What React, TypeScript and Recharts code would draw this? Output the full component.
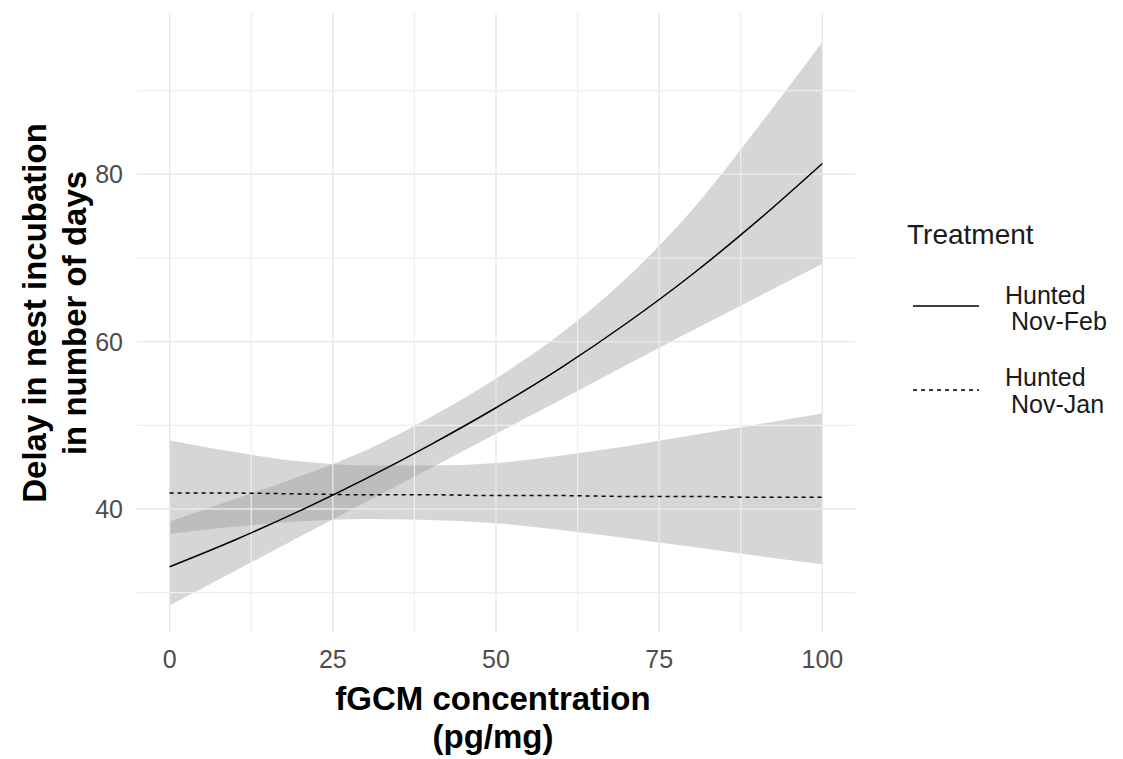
import {
  ComposedChart,
  Area,
  Line,
  XAxis,
  YAxis,
  ReferenceLine,
} from "recharts";

const xValues = [0, 10, 20, 30, 40, 50, 60, 70, 80, 90, 100];

// Hunted Nov-Feb: fitted delay and confidence band
const febFit = [33.1, 36.3, 39.8, 43.6, 47.7, 52.1, 56.9, 62.2, 68.0, 74.4, 81.3];
const febLow = [28.5, 32.6, 36.7, 40.8, 44.9, 49.0, 53.1, 57.2, 61.3, 65.3, 69.3];
const febHigh = [38.5, 41.2, 43.9, 47.0, 51.0, 55.6, 61.0, 67.6, 75.7, 85.5, 95.8];

// Hunted Nov-Jan: fitted delay and confidence band
const janFit = [41.9, 41.9, 41.8, 41.7, 41.7, 41.6, 41.6, 41.5, 41.5, 41.4, 41.4];
const janLow = [37.0, 37.9, 38.5, 38.8, 38.7, 38.3, 37.5, 36.5, 35.5, 34.4, 33.4];
const janHigh = [48.2, 46.8, 45.7, 45.2, 45.2, 45.5, 46.4, 47.5, 48.8, 50.1, 51.4];

const xTicks = [0, 25, 50, 75, 100];
const xMinor = [12.5, 37.5, 62.5, 87.5];
const yTicks = [40, 60, 80];
const yMinor = [30, 50, 70, 90];

const data = xValues.map((x, i) => ({
  x,
  febFit: febFit[i],
  febBand: [febLow[i], febHigh[i]],
  janFit: janFit[i],
  janBand: [janLow[i], janHigh[i]],
}));

const FONT = "'Liberation Sans', Arial, sans-serif";
const W = 1123;
const H = 759;

export default function App() {
  return (
    <div style={{ position: "absolute", left: 0, top: 0, width: W, height: H, background: "white" }}>
      <ComposedChart
        width={W}
        height={H}
        data={data}
        margin={{ top: 13, right: 268, bottom: 0, left: 0 }}
      >
        <XAxis
          dataKey="x"
          type="number"
          domain={[-5, 105]}
          ticks={xTicks}
          allowDataOverflow
          axisLine={false}
          tickLine={false}
          tickSize={0}
          tickMargin={17}
          height={126}
          tick={{ fontSize: 25, fill: "#4d4d4d", fontFamily: FONT }}
        />
        <YAxis
          type="number"
          domain={[25.18, 99.28]}
          ticks={yTicks}
          allowDataOverflow
          axisLine={false}
          tickLine={false}
          tickSize={0}
          tickMargin={14}
          width={137}
          tick={{ fontSize: 25, fill: "#4d4d4d", fontFamily: FONT }}
        />
        {xMinor.map((v) => (
          <ReferenceLine key={"xm" + v} x={v} stroke="#efefef" strokeWidth={1.2} />
        ))}
        {yMinor.map((v) => (
          <ReferenceLine key={"ym" + v} y={v} stroke="#efefef" strokeWidth={1.2} />
        ))}
        {xTicks.map((v) => (
          <ReferenceLine key={"x" + v} x={v} stroke="#e8e8e8" strokeWidth={1.4} />
        ))}
        {yTicks.map((v) => (
          <ReferenceLine key={"y" + v} y={v} stroke="#e8e8e8" strokeWidth={1.4} />
        ))}
        <Area
          type="monotone"
          dataKey="febBand"
          stroke="none"
          fill="#999999"
          fillOpacity={0.4}
          isAnimationActive={false}
        />
        <Area
          type="monotone"
          dataKey="janBand"
          stroke="none"
          fill="#999999"
          fillOpacity={0.4}
          isAnimationActive={false}
        />
        <Line
          type="monotone"
          dataKey="febFit"
          stroke="#000"
          strokeWidth={1.5}
          dot={false}
          isAnimationActive={false}
        />
        <Line
          type="monotone"
          dataKey="janFit"
          stroke="#000"
          strokeWidth={1.5}
          strokeDasharray="4 4"
          dot={false}
          isAnimationActive={false}
        />
      </ComposedChart>

      <svg
        width={W}
        height={H}
        style={{ position: "absolute", left: 0, top: 0, pointerEvents: "none" }}
        fontFamily={FONT}
      >
        {/* y axis title */}
        <g fontSize={33} fontWeight="bold" fill="#000" textAnchor="middle">
          <text transform="translate(46,313) rotate(-90)">Delay in nest incubation</text>
          <text transform="translate(86,313) rotate(-90)">in number of days</text>
        </g>
        {/* x axis title */}
        <g fontSize={33} fontWeight="bold" fill="#000" textAnchor="middle">
          <text x={493} y={710}>fGCM concentration</text>
          <text x={493} y={748}>(pg/mg)</text>
        </g>
        {/* legend */}
        <text x={907} y={244} fontSize={28} fill="#1a1a1a">Treatment</text>
        <line x1={913} x2={979} y1={306} y2={306} stroke="#000" strokeWidth={1.5} />
        <text x={1005} y={304} fontSize={25} fill="#1a1a1a">Hunted</text>
        <text x={1011} y={330} fontSize={25} fill="#1a1a1a">Nov-Feb</text>
        <line x1={913} x2={979} y1={390} y2={390} stroke="#000" strokeWidth={1.5} strokeDasharray="4 4" />
        <text x={1005} y={386} fontSize={25} fill="#1a1a1a">Hunted</text>
        <text x={1011} y={413} fontSize={25} fill="#1a1a1a">Nov-Jan</text>
      </svg>
    </div>
  );
}
